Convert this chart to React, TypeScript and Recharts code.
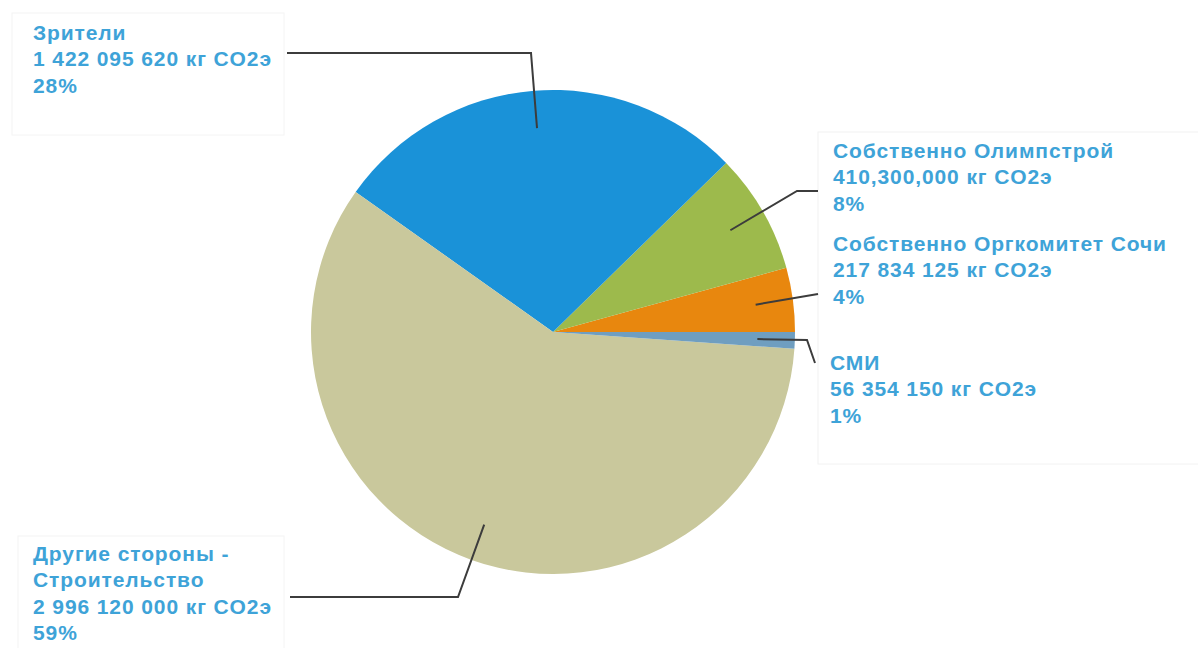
import { PieChart, Pie, Cell } from "recharts";

const names = [
  "Собственно Оргкомитет Сочи",
  "Собственно Олимпстрой",
  "Зрители",
  "Другие стороны - Строительство",
  "СМИ",
];
const values = [217834125, 410300000, 1422095620, 2996120000, 56354150];
const valueLabels = [
  "217 834 125 кг CO2э",
  "410,300,000 кг CO2э",
  "1 422 095 620 кг CO2э",
  "2 996 120 000 кг CO2э",
  "56 354 150 кг CO2э",
];
const titleLines = [
  ["Собственно Оргкомитет Сочи"],
  ["Собственно Олимпстрой"],
  ["Зрители"],
  ["Другие стороны -", "Строительство"],
  ["СМИ"],
];
const colors = ["#e8870e", "#9dba4c", "#1a92d8", "#c9c89c", "#6f9ec0"];

// label placement: leader-line bend points and text origin
const layout = [
  { path: [[818, 294]], tx: 833, ty: 243 },
  { path: [[797, 191], [818, 191]], tx: 833, ty: 150 },
  { path: [[531, 53], [287, 53]], tx: 33, ty: 32 },
  { path: [[458, 597], [290, 597]], tx: 33, ty: 553 },
  { path: [[807, 340], [815, 363]], tx: 830, ty: 362 },
];

const data = names.map((name, i) => ({ name, value: values[i] }));

const RAD = Math.PI / 180;
const LINE_H = 26.5;
const textColor = "#3ea3d8";

function renderLabel(props: any) {
  const { cx, cy, midAngle, outerRadius, percent, index } = props;
  const r = outerRadius * 0.845;
  const sx = cx + r * Math.cos(-midAngle * RAD);
  const sy = cy + r * Math.sin(-midAngle * RAD);
  const lay = layout[index];
  const pts = [[sx, sy], ...lay.path].map((p) => p.join(",")).join(" ");
  const lines = [...titleLines[index], valueLabels[index], `${Math.round(percent * 100)}%`];
  return (
    <g key={`lbl-${index}`}>
      <polyline points={pts} fill="none" stroke="#3c3c3c" strokeWidth={2} />
      {lines.map((t, j) => (
        <text
          key={j}
          x={lay.tx}
          y={lay.ty + j * LINE_H}
          dominantBaseline="central"
          fill={textColor}
          fontSize={21}
          letterSpacing={0.9}
          fontWeight="bold"
          fontFamily="'Liberation Sans', Arial, sans-serif"
        >
          {t}
        </text>
      ))}
    </g>
  );
}

export default function App() {
  return (
    <div style={{ position: "absolute", left: 0, top: 0, width: 1198, height: 648, background: "#fff" }}>
      <svg width={1198} height={648} style={{ position: "absolute", left: 0, top: 0 }}>
        <rect x={12} y={13} width={272} height={122} fill="#fff" stroke="#f4f4f4" />
        <rect x={818} y={132} width={400} height={332} fill="#fff" stroke="#f2f2f2" />
        <rect x={18} y={536} width={266} height={120} fill="#fff" stroke="#f4f4f4" />
      </svg>
      <div style={{ position: "absolute", left: 0, top: 0 }}>
        <PieChart width={1198} height={648} margin={{ top: 0, right: 0, bottom: 0, left: 0 }}>
          <Pie
            data={data}
            dataKey="value"
            nameKey="name"
            cx={553}
            cy={332}
            outerRadius={242}
            startAngle={0}
            endAngle={360}
            stroke="none"
            label={renderLabel}
            labelLine={false}
            isAnimationActive={false}
          >
            {data.map((d, i) => (
              <Cell key={d.name} fill={colors[i]} />
            ))}
          </Pie>
        </PieChart>
      </div>
    </div>
  );
}
